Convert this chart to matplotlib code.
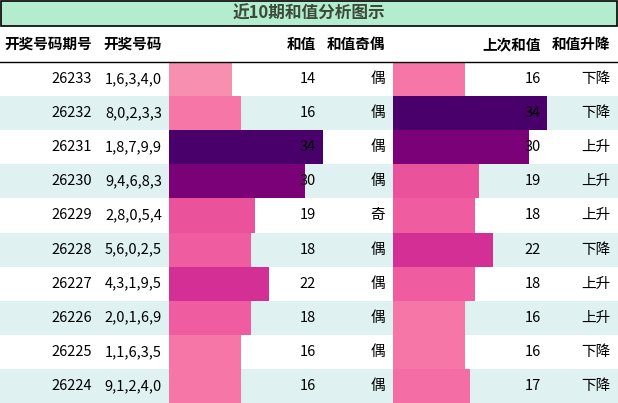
import matplotlib
matplotlib.use("Agg")
import matplotlib.pyplot as plt
from matplotlib.patches import Rectangle

plt.rcParams['font.family'] = ['Noto Sans CJK SC', 'DejaVu Sans']

title = "近10期和值分析图示"
headers = ["开奖号码期号", "开奖号码", "和值", "和值奇偶", "上次和值", "和值升降"]
periods = ["26233", "26232", "26231", "26230", "26229", "26228", "26227", "26226", "26225", "26224"]
numbers = ["1,6,3,4,0", "8,0,2,3,3", "1,8,7,9,9", "9,4,6,8,3", "2,8,0,5,4",
           "5,6,0,2,5", "4,3,1,9,5", "2,0,1,6,9", "1,1,6,3,5", "9,1,2,4,0"]
sums = [14, 16, 34, 30, 19, 18, 22, 18, 16, 16]
parity = ["偶", "偶", "偶", "偶", "奇", "偶", "偶", "偶", "偶", "偶"]
prev_sums = [16, 34, 30, 19, 18, 22, 18, 16, 16, 17]
trend = ["下降", "下降", "上升", "上升", "上升", "下降", "上升", "上升", "下降", "下降"]

palette = {14: "#f78fb0", 16: "#f776a8", 17: "#f46ea5", 18: "#ef5da0",
           19: "#ea529c", 22: "#d42f95", 30: "#7a0177", 34: "#49006a"}

W, H = 618, 403
fig = plt.figure(figsize=(W/100, H/100), dpi=100)
ax = fig.add_axes([0, 0, 1, 1])
ax.set_xlim(0, W); ax.set_ylim(H, 0); ax.axis('off')

ax.add_patch(Rectangle((1, 1), W-2, 25, facecolor="#b3ecce", edgecolor="black", lw=1.2))
ax.text(W/2, 14, title, ha='center', va='center', fontsize=12, fontweight='bold', color="#3c4a3c")

hy = 44
hx = [(92, 'right'), (162, 'right'), (316, 'right'), (327, 'left'), (541, 'right'), (610, 'right')]
for (x, ha), h in zip(hx, headers):
    ax.text(x, hy, h, ha=ha, va='center', fontsize=10.5, fontweight='bold')
ax.plot([0, W], [61.5, 61.5], color='black', lw=1)

top, rh = 62, 34.1
scale = 154/34
for i in range(10):
    y0 = top + i*rh
    yc = y0 + rh/2
    if i % 2 == 1:
        ax.add_patch(Rectangle((0, y0), W, rh, facecolor="#e0f1f1", edgecolor='none', zorder=0))
    ax.barh(yc, sums[i]*scale, left=169, height=rh, color=palette[sums[i]], zorder=1)
    ax.barh(yc, prev_sums[i]*scale, left=393, height=rh, color=palette[prev_sums[i]], zorder=1)
    ax.text(92, yc, periods[i], ha='right', va='center', fontsize=10.5, zorder=2)
    ax.text(162, yc, numbers[i], ha='right', va='center', fontsize=10.5, zorder=2)
    ax.text(316, yc, str(sums[i]), ha='right', va='center', fontsize=10.5, zorder=2)
    ax.text(385, yc, parity[i], ha='right', va='center', fontsize=10.5, zorder=2)
    ax.text(541, yc, str(prev_sums[i]), ha='right', va='center', fontsize=10.5, zorder=2)
    ax.text(610, yc, trend[i], ha='right', va='center', fontsize=10.5, zorder=2)

fig.savefig("out.png", dpi=100)
